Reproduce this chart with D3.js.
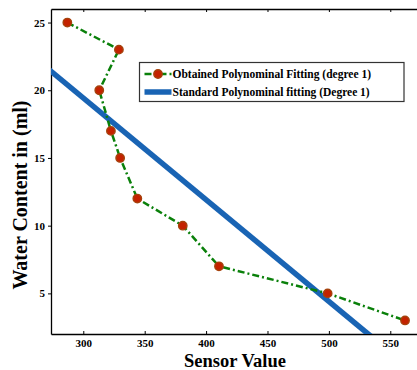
<!DOCTYPE html>
<html>
<head>
<meta charset="utf-8">
<script src="https://cdn.jsdelivr.net/npm/d3@7"></script>
<style>
  body { margin: 0; background: #fff; }
  text { font-family: "Liberation Serif", "Times New Roman", serif; font-weight: bold; }
</style>
</head>
<body>
<div id="chart"></div>
<script>
// measured points (sensor value vs water content)
var sensorValues = [287, 329, 313, 322.5, 330, 344, 381, 410.5, 499, 562];
var waterContent = [25, 23, 20, 17, 15, 12, 10, 7, 5, 3];

// standard fit line, two ends (clipped by the axes)
var stdSensor = [260, 540];
var stdWater = [22.43, 1.40];

var xTicks = [300, 350, 400, 450, 500, 550];
var yTicks = [5, 10, 15, 20, 25];

var legendLabels = ["Obtained Polynominal Fitting (degree 1)", "Standard Polynominal fitting (Degree 1)"];

var W = 417, H = 370;
var margin = { top: 9, left: 51, bottom: 36, right: -3 };
var width = W - margin.left - margin.right,
    height = H - margin.top - margin.bottom;

var svg = d3.select("#chart").append("svg")
    .attr("width", W)
    .attr("height", H);

var g = svg.append("g")
    .attr("transform", "translate(" + margin.left + "," + margin.top + ")");

var x = d3.scaleLinear().domain([273.7, 574.2]).range([0, width]);
var y = d3.scaleLinear().domain([2, 26]).range([height, 0]);

g.append("clipPath").attr("id", "clip")
    .append("rect").attr("width", width).attr("height", height);

// axes
var xAxis = g.append("g")
    .attr("transform", "translate(0," + height + ")")
    .call(d3.axisBottom(x).tickValues(xTicks).tickSizeInner(-3).tickSizeOuter(0).tickPadding(5));
var xTop = g.append("g")
    .call(d3.axisTop(x).tickValues(xTicks).tickSizeInner(-3).tickSizeOuter(0).tickFormat(""));
var yAxis = g.append("g")
    .call(d3.axisLeft(y).tickValues(yTicks).tickSizeInner(3).tickSizeOuter(0).tickPadding(3));

[xAxis, xTop, yAxis].forEach(function (a) {
    a.select(".domain").attr("stroke", "#000").attr("stroke-width", 1.3);
    a.selectAll(".tick line").attr("stroke", "#000");
    a.selectAll("text")
        .style("font-family", '"Liberation Serif", serif')
        .style("font-weight", "bold")
        .style("font-size", "11px")
        .attr("fill", "#000");
});

var plot = g.append("g").attr("clip-path", "url(#clip)");

// standard fit
var stdData = stdSensor.map(function (s, i) { return [s, stdWater[i]]; });
plot.append("path")
    .datum(stdData)
    .attr("fill", "none")
    .attr("stroke", "#1964b4")
    .attr("stroke-width", 5.5)
    .attr("d", d3.line()
        .x(function (d) { return x(d[0]); })
        .y(function (d) { return y(d[1]); }));

// obtained fit
var obs = sensorValues.map(function (s, i) { return [s, waterContent[i]]; });
plot.append("path")
    .datum(obs)
    .attr("fill", "none")
    .attr("stroke", "#0a800a")
    .attr("stroke-width", 2.5)
    .attr("stroke-dasharray", "7,3,2,3")
    .attr("d", d3.line()
        .x(function (d) { return x(d[0]); })
        .y(function (d) { return y(d[1]); }));

plot.append("g")
    .selectAll("circle")
    .data(obs)
    .enter()
    .append("circle")
    .attr("cx", function (d) { return x(d[0]); })
    .attr("cy", function (d) { return y(d[1]); })
    .attr("r", 4.2)
    .attr("fill", "#c42200")
    .attr("stroke", "#a5420c")
    .attr("stroke-width", 1.4);

// legend
var leg = svg.append("g").attr("transform", "translate(139.5,62.5)");
leg.append("rect")
    .attr("width", 264.5).attr("height", 39)
    .attr("fill", "#fff").attr("stroke", "#333").attr("stroke-width", 1.2);
leg.append("line")
    .attr("x1", 5).attr("x2", 32).attr("y1", 11.5).attr("y2", 11.5)
    .attr("stroke", "#0a800a").attr("stroke-width", 2.5).attr("stroke-dasharray", "7,3,2,3");
leg.append("circle")
    .attr("cx", 18.5).attr("cy", 11.5).attr("r", 4.2)
    .attr("fill", "#c42200").attr("stroke", "#a5420c").attr("stroke-width", 1.4);
leg.append("line")
    .attr("x1", 5).attr("x2", 32).attr("y1", 29.5).attr("y2", 29.5)
    .attr("stroke", "#1964b4").attr("stroke-width", 5.5);
leg.selectAll("text.lab")
    .data(legendLabels)
    .enter()
    .append("text")
    .attr("class", "lab")
    .attr("x", 33)
    .attr("y", function (d, i) { return 15.5 + i * 18; })
    .style("font-size", "11.5px")
    .text(function (d) { return d; });

// axis titles
svg.append("text")
    .attr("x", 235).attr("y", 367)
    .attr("text-anchor", "middle")
    .style("font-size", "18.5px")
    .text("Sensor Value");
svg.append("text")
    .attr("transform", "translate(27,195) rotate(-90)")
    .attr("text-anchor", "middle")
    .style("font-size", "20px")
    .text("Water Content in (ml)");
</script>
</body>
</html>
